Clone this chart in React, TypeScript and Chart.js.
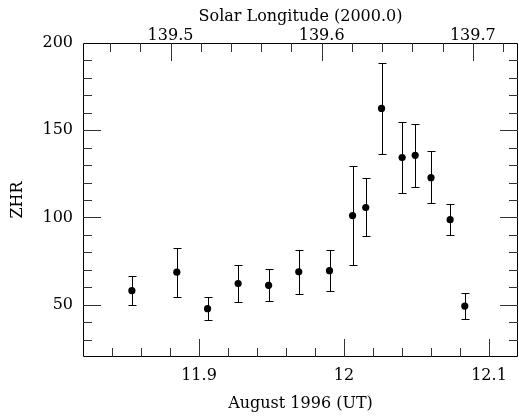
import React, { useEffect, useRef } from 'react';
import { Chart, registerables } from 'chart.js';

Chart.register(...registerables);

// Observation times (August 1996, UT days) and ZHR with error limits
const TIME = [11.8537, 11.8847, 11.9059, 11.927, 11.948, 11.9688, 11.99, 12.0059, 12.015, 12.0259, 12.0401, 12.0491, 12.06, 12.0732, 12.0833];
const ZHR = [58.0, 68.6, 47.7, 62.1, 61.1, 68.8, 69.5, 101.1, 105.7, 162.5, 134.3, 135.6, 122.8, 98.7, 49.2];
const ZHR_HIGH = [66.5, 82.6, 54.6, 72.6, 70.5, 81.2, 81.2, 129.5, 122.6, 188.7, 154.6, 153.8, 138.1, 107.6, 56.7];
const ZHR_LOW = [49.8, 54.6, 41.0, 51.5, 52.1, 56.3, 57.7, 73.0, 89.3, 136.2, 114.0, 117.2, 108.0, 90.2, 41.8];

// Axes
const X_RANGE = [11.82, 12.12];
const X_TICKS = [11.9, 12.0, 12.1];
const X_TICK_LABELS = ['11.9', '12', '12.1'];
const X_MINOR_STEP = 0.02;
const TOP_RANGE = [139.4421, 139.7299];
const TOP_TICKS = [139.5, 139.6, 139.7];
const TOP_TICK_LABELS = ['139.5', '139.6', '139.7'];
const TOP_MINOR_STEP = 0.02;
const Y_RANGE = [20, 200];
const Y_TICKS = [50, 100, 150, 200];
const Y_MINOR_STEP = 10;

const FONT_FAMILY = '"DejaVu Serif", serif';

function minorValues(min: number, max: number, step: number): number[] {
  const out: number[] = [];
  const start = Math.ceil(min / step - 1e-6);
  for (let k = start; k * step <= max + 1e-9; k++) out.push(Math.round(k * step * 1e6) / 1e6);
  return out;
}

const framePlugin = {
  id: 'frameTicks',
  afterDraw(chart: any) {
    const { ctx, chartArea } = chart;
    const { left, right, top, bottom } = chartArea;
    const sx = chart.scales.x;
    const st = chart.scales.x2;
    const sy = chart.scales.y;
    const MAJOR = 18;
    const MINOR = 9;
    ctx.save();
    ctx.strokeStyle = '#000';
    ctx.lineWidth = 1;
    ctx.beginPath();
    ctx.rect(Math.round(left) + 0.5, Math.round(top) + 0.5, Math.round(right - left) - 1, Math.round(bottom - top) - 1);
    ctx.stroke();

    const isMajor = (v: number, list: number[]) => list.some((m) => Math.abs(m - v) < 1e-6);

    ctx.strokeStyle = '#333';
    ctx.beginPath();
    for (const v of minorValues(X_RANGE[0], X_RANGE[1], X_MINOR_STEP)) {
      const px = Math.round(sx.getPixelForValue(v)) + 0.5;
      if (px <= left + 1 || px >= right - 1) continue;
      const len = isMajor(v, X_TICKS) ? MAJOR : MINOR;
      ctx.moveTo(px, bottom);
      ctx.lineTo(px, bottom - len);
    }
    for (const v of minorValues(TOP_RANGE[0], TOP_RANGE[1], TOP_MINOR_STEP)) {
      const px = Math.round(st.getPixelForValue(v)) + 0.5;
      if (px <= left + 1 || px >= right - 1) continue;
      const len = isMajor(v, TOP_TICKS) ? MAJOR : MINOR;
      ctx.moveTo(px, top);
      ctx.lineTo(px, top + len);
    }
    for (const v of minorValues(Y_RANGE[0], Y_RANGE[1], Y_MINOR_STEP)) {
      const py = Math.round(sy.getPixelForValue(v)) + 0.5;
      if (py <= top + 1 || py >= bottom - 1) continue;
      const len = v % 50 === 0 ? MAJOR : MINOR;
      ctx.moveTo(left, py);
      ctx.lineTo(left + len, py);
      ctx.moveTo(right, py);
      ctx.lineTo(right - len, py);
    }
    ctx.stroke();
    ctx.restore();
  },
};

const errorBarPlugin = {
  id: 'errorBars',
  beforeDatasetsDraw(chart: any) {
    const { ctx } = chart;
    const sx = chart.scales.x;
    const sy = chart.scales.y;
    const CAP = 4;
    ctx.save();
    ctx.strokeStyle = '#000';
    ctx.lineWidth = 1;
    ctx.beginPath();
    for (let i = 0; i < TIME.length; i++) {
      const px = Math.round(sx.getPixelForValue(TIME[i])) + 0.5;
      const yh = Math.round(sy.getPixelForValue(ZHR_HIGH[i])) + 0.5;
      const yl = Math.round(sy.getPixelForValue(ZHR_LOW[i])) + 0.5;
      ctx.moveTo(px, yh);
      ctx.lineTo(px, yl);
      ctx.moveTo(px - CAP, yh);
      ctx.lineTo(px + CAP, yh);
      ctx.moveTo(px - CAP, yl);
      ctx.lineTo(px + CAP, yl);
    }
    ctx.stroke();
    ctx.restore();
  },
};

export default function App() {
  const canvasRef = useRef<HTMLCanvasElement | null>(null);

  useEffect(() => {
    if (!canvasRef.current) return;
    const font = { family: FONT_FAMILY, size: 16 };
    const chart = new Chart(canvasRef.current, {
      type: 'scatter',
      data: {
        datasets: [
          {
            label: 'ZHR',
            data: TIME.map((t, i) => ({ x: t, y: ZHR[i] })),
            backgroundColor: '#000',
            borderColor: '#000',
            borderWidth: 0,
            pointRadius: 3.6,
            pointHoverRadius: 3.6,
            xAxisID: 'x',
            yAxisID: 'y',
          },
        ],
      },
      options: {
        responsive: false,
        animation: false,
        events: [],
        layout: { autoPadding: false, padding: { left: 0, right: 1, top: 0, bottom: 0 } },
        plugins: { legend: { display: false }, tooltip: { enabled: false } },
        scales: {
          x: {
            type: 'linear',
            position: 'bottom',
            min: X_RANGE[0],
            max: X_RANGE[1],
            grid: { display: false, drawTicks: false },
            border: { display: false },
            afterBuildTicks: (s: any) => {
              s.ticks = X_TICKS.map((v) => ({ value: v }));
            },
            ticks: {
              font,
              color: '#000',
              padding: 9,
              maxRotation: 0,
              autoSkip: false,
              callback: (v: any) => {
                const i = X_TICKS.findIndex((m) => Math.abs(m - Number(v)) < 1e-6);
                return i >= 0 ? X_TICK_LABELS[i] : '';
              },
            },
            title: { display: true, text: 'August 1996 (UT)', font, color: '#000', padding: { top: 0, bottom: 3 } },
            afterFit: (s: any) => {
              s.height = 59;
              s.paddingLeft = 0;
              s.paddingRight = 0;
            },
          },
          x2: {
            type: 'linear',
            position: 'top',
            display: true,
            min: TOP_RANGE[0],
            max: TOP_RANGE[1],
            grid: { display: false, drawTicks: false },
            border: { display: false },
            afterBuildTicks: (s: any) => {
              s.ticks = TOP_TICKS.map((v) => ({ value: v }));
            },
            ticks: {
              font,
              color: '#000',
              padding: -2,
              maxRotation: 0,
              autoSkip: false,
              callback: (v: any) => {
                const i = TOP_TICKS.findIndex((m) => Math.abs(m - Number(v)) < 1e-6);
                return i >= 0 ? TOP_TICK_LABELS[i] : '';
              },
            },
            title: { display: true, text: 'Solar Longitude (2000.0)', font, color: '#000', padding: { top: 7, bottom: 0 } },
            afterFit: (s: any) => {
              s.height = 43;
              s.paddingLeft = 0;
              s.paddingRight = 0;
            },
          },
          y: {
            type: 'linear',
            position: 'left',
            min: Y_RANGE[0],
            max: Y_RANGE[1],
            grid: { display: false, drawTicks: false },
            border: { display: false },
            afterBuildTicks: (s: any) => {
              s.ticks = Y_TICKS.map((v) => ({ value: v }));
            },
            ticks: { font, color: '#000', padding: 10, autoSkip: false, callback: (v: any) => String(v) },
            title: { display: true, text: 'ZHR', font, color: '#000', padding: { top: 8, bottom: 0 } },
            afterFit: (s: any) => {
              s.width = 83;
              s.paddingTop = 0;
              s.paddingBottom = 0;
            },
          },
        },
      },
      plugins: [errorBarPlugin, framePlugin],
    } as any);
    return () => chart.destroy();
  }, []);

  return (
    <div style={{ position: 'absolute', left: 0, top: 0, width: 519, height: 416 }}>
      <canvas ref={canvasRef} width={519} height={416} style={{ width: 519, height: 416, display: 'block' }} />
    </div>
  );
}
